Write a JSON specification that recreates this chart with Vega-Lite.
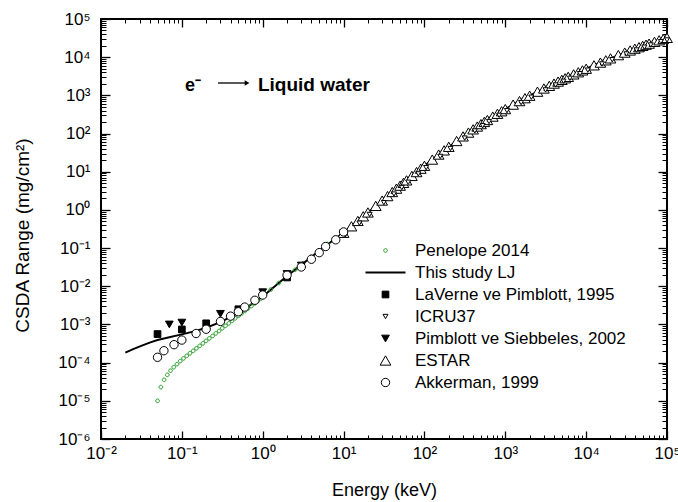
{
  "$schema": "https://vega.github.io/schema/vega-lite/v6.json",
  "width": 566,
  "height": 420,
  "autosize": {"type": "none"},
  "padding": {"left": 101, "top": 19, "right": 11, "bottom": 63},
  "background": "white",
  "config": {
    "view": {"stroke": "black", "strokeWidth": 2},
    "font": "Liberation Sans",
    "axis": {"grid": false, "domain": false, "tickColor": "black", "labelColor": "black", "titleColor": "black", "labelFont": "Liberation Sans", "titleFont": "Liberation Sans", "labelFontSize": 17, "titleFontSize": 18, "titleFontWeight": "normal"},
    "legend": {"labelFont": "Liberation Sans", "labelFontSize": 17, "labelColor": "black", "labelLimit": 400, "symbolOpacity": 1, "padding": 0}
  },
  "datasets": {
    "lj": [
      {"E": 0.02, "R": 1.82e-4},
      {"E": 0.025, "R": 2.25e-4},
      {"E": 0.032, "R": 2.8e-4},
      {"E": 0.04, "R": 3.35e-4},
      {"E": 0.05, "R": 3.9e-4},
      {"E": 0.07, "R": 4.6e-4},
      {"E": 0.1, "R": 5.5e-4},
      {"E": 0.15, "R": 6.8e-4},
      {"E": 0.2, "R": 8.2e-4},
      {"E": 0.3, "R": 1.15e-3},
      {"E": 0.5, "R": 2.0e-3},
      {"E": 0.7, "R": 3.2e-3},
      {"E": 1, "R": 5.4e-3},
      {"E": 2, "R": 0.0185},
      {"E": 5, "R": 0.085},
      {"E": 10, "R": 0.255},
      {"E": 20, "R": 0.857},
      {"E": 50, "R": 4.32},
      {"E": 100, "R": 14.3},
      {"E": 200, "R": 44.9},
      {"E": 500, "R": 177},
      {"E": 1000, "R": 437},
      {"E": 2000, "R": 978},
      {"E": 5000, "R": 2550},
      {"E": 10000, "R": 4975},
      {"E": 20000, "R": 9320},
      {"E": 50000, "R": 19780},
      {"E": 100000, "R": 32100}
    ],
    "points": [
      {"s": "Penelope 2014", "E": 0.0501, "R": 1.0e-5},
      {"s": "Penelope 2014", "E": 0.0550, "R": 2.29e-5},
      {"s": "Penelope 2014", "E": 0.0603, "R": 3.55e-5},
      {"s": "Penelope 2014", "E": 0.0661, "R": 4.79e-5},
      {"s": "Penelope 2014", "E": 0.0724, "R": 6.17e-5},
      {"s": "Penelope 2014", "E": 0.0794, "R": 7.59e-5},
      {"s": "Penelope 2014", "E": 0.0871, "R": 9.12e-5},
      {"s": "Penelope 2014", "E": 0.0955, "R": 1.10e-4},
      {"s": "Penelope 2014", "E": 0.1047, "R": 1.29e-4},
      {"s": "Penelope 2014", "E": 0.1148, "R": 1.51e-4},
      {"s": "Penelope 2014", "E": 0.1259, "R": 1.76e-4},
      {"s": "Penelope 2014", "E": 0.1380, "R": 2.04e-4},
      {"s": "Penelope 2014", "E": 0.1514, "R": 2.37e-4},
      {"s": "Penelope 2014", "E": 0.1660, "R": 2.75e-4},
      {"s": "Penelope 2014", "E": 0.1820, "R": 3.20e-4},
      {"s": "Penelope 2014", "E": 0.1995, "R": 3.72e-4},
      {"s": "Penelope 2014", "E": 0.2188, "R": 4.32e-4},
      {"s": "Penelope 2014", "E": 0.2399, "R": 5.01e-4},
      {"s": "Penelope 2014", "E": 0.2630, "R": 5.82e-4},
      {"s": "Penelope 2014", "E": 0.2884, "R": 6.76e-4},
      {"s": "Penelope 2014", "E": 0.3162, "R": 7.94e-4},
      {"s": "Penelope 2014", "E": 0.3467, "R": 9.23e-4},
      {"s": "Penelope 2014", "E": 0.3802, "R": 1.07e-3},
      {"s": "Penelope 2014", "E": 0.4169, "R": 1.24e-3},
      {"s": "Penelope 2014", "E": 0.4571, "R": 1.45e-3},
      {"s": "Penelope 2014", "E": 0.5012, "R": 1.68e-3},
      {"s": "Penelope 2014", "E": 0.5495, "R": 1.95e-3},
      {"s": "Penelope 2014", "E": 0.6026, "R": 2.26e-3},
      {"s": "Penelope 2014", "E": 0.6607, "R": 2.63e-3},
      {"s": "Penelope 2014", "E": 0.7244, "R": 3.05e-3},
      {"s": "Penelope 2014", "E": 0.7943, "R": 3.55e-3},
      {"s": "Penelope 2014", "E": 0.8710, "R": 4.12e-3},
      {"s": "Penelope 2014", "E": 0.9550, "R": 4.79e-3},
      {"s": "Penelope 2014", "E": 1.047, "R": 5.6e-3},
      {"s": "Penelope 2014", "E": 1.259, "R": 8.2e-3},
      {"s": "Penelope 2014", "E": 1.585, "R": 0.0122},
      {"s": "Penelope 2014", "E": 1.995, "R": 0.0182},
      {"s": "Penelope 2014", "E": 2.512, "R": 0.027},
      {"s": "Penelope 2014", "E": 3.162, "R": 0.040},
      {"s": "Penelope 2014", "E": 3.981, "R": 0.059},
      {"s": "Penelope 2014", "E": 5.012, "R": 0.087},
      {"s": "Penelope 2014", "E": 6.310, "R": 0.128},
      {"s": "Penelope 2014", "E": 7.943, "R": 0.188},
      {"s": "Penelope 2014", "E": 10, "R": 0.255},
      {"s": "Penelope 2014", "E": 12.59, "R": 0.375},
      {"s": "Penelope 2014", "E": 15.85, "R": 0.56},
      {"s": "Penelope 2014", "E": 19.95, "R": 0.857},
      {"s": "Penelope 2014", "E": 25.12, "R": 1.28},
      {"s": "Penelope 2014", "E": 31.62, "R": 1.92},
      {"s": "Penelope 2014", "E": 39.81, "R": 2.90},
      {"s": "Penelope 2014", "E": 50.12, "R": 4.33},
      {"s": "Penelope 2014", "E": 63.10, "R": 6.5},
      {"s": "Penelope 2014", "E": 79.43, "R": 9.66},
      {"s": "Penelope 2014", "E": 100, "R": 14.3},
      {"s": "Penelope 2014", "E": 125.9, "R": 21.0},
      {"s": "Penelope 2014", "E": 158.5, "R": 30.8},
      {"s": "Penelope 2014", "E": 199.5, "R": 44.9},
      {"s": "Penelope 2014", "E": 251.2, "R": 64},
      {"s": "Penelope 2014", "E": 316.2, "R": 91},
      {"s": "Penelope 2014", "E": 398.1, "R": 128},
      {"s": "Penelope 2014", "E": 501.2, "R": 177},
      {"s": "Penelope 2014", "E": 631.0, "R": 243},
      {"s": "Penelope 2014", "E": 794.3, "R": 326},
      {"s": "Penelope 2014", "E": 1000, "R": 437},
      {"s": "Penelope 2014", "E": 1259, "R": 577},
      {"s": "Penelope 2014", "E": 1585, "R": 753},
      {"s": "Penelope 2014", "E": 1995, "R": 976},
      {"s": "Penelope 2014", "E": 2512, "R": 1255},
      {"s": "Penelope 2014", "E": 3162, "R": 1600},
      {"s": "Penelope 2014", "E": 3981, "R": 2030},
      {"s": "Penelope 2014", "E": 5012, "R": 2555},
      {"s": "Penelope 2014", "E": 6310, "R": 3200},
      {"s": "Penelope 2014", "E": 7943, "R": 3990},
      {"s": "Penelope 2014", "E": 10000, "R": 4975},
      {"s": "Penelope 2014", "E": 12589, "R": 6160},
      {"s": "Penelope 2014", "E": 15849, "R": 7590},
      {"s": "Penelope 2014", "E": 19953, "R": 9300},
      {"s": "Penelope 2014", "E": 25119, "R": 11330},
      {"s": "Penelope 2014", "E": 31623, "R": 13700},
      {"s": "Penelope 2014", "E": 39811, "R": 16600},
      {"s": "Penelope 2014", "E": 50119, "R": 19800},
      {"s": "Penelope 2014", "E": 63096, "R": 23500},
      {"s": "Penelope 2014", "E": 79433, "R": 27700},
      {"s": "Penelope 2014", "E": 100000, "R": 32100},
      {"s": "LaVerne ve Pimblott, 1995", "E": 0.05, "R": 5.6e-4},
      {"s": "LaVerne ve Pimblott, 1995", "E": 0.1, "R": 7.4e-4},
      {"s": "LaVerne ve Pimblott, 1995", "E": 0.2, "R": 1.07e-3},
      {"s": "LaVerne ve Pimblott, 1995", "E": 0.5, "R": 2.5e-3},
      {"s": "LaVerne ve Pimblott, 1995", "E": 2, "R": 0.017},
      {"s": "Pimblott ve Siebbeles, 2002", "E": 0.07, "R": 1.0e-3},
      {"s": "Pimblott ve Siebbeles, 2002", "E": 0.1, "R": 1.12e-3},
      {"s": "Pimblott ve Siebbeles, 2002", "E": 0.3, "R": 1.9e-3},
      {"s": "Pimblott ve Siebbeles, 2002", "E": 1, "R": 7.0e-3},
      {"s": "Pimblott ve Siebbeles, 2002", "E": 2, "R": 0.021},
      {"s": "Pimblott ve Siebbeles, 2002", "E": 3, "R": 0.035},
      {"s": "Pimblott ve Siebbeles, 2002", "E": 10, "R": 0.245},
      {"s": "ESTAR", "E": 10, "R": 0.2515},
      {"s": "ESTAR", "E": 12.5, "R": 0.3718},
      {"s": "ESTAR", "E": 15, "R": 0.5147},
      {"s": "ESTAR", "E": 17.5, "R": 0.679},
      {"s": "ESTAR", "E": 20, "R": 0.8575},
      {"s": "ESTAR", "E": 25, "R": 1.274},
      {"s": "ESTAR", "E": 30, "R": 1.756},
      {"s": "ESTAR", "E": 35, "R": 2.30},
      {"s": "ESTAR", "E": 40, "R": 2.94},
      {"s": "ESTAR", "E": 45, "R": 3.60},
      {"s": "ESTAR", "E": 50, "R": 4.32},
      {"s": "ESTAR", "E": 55, "R": 5.10},
      {"s": "ESTAR", "E": 60, "R": 5.94},
      {"s": "ESTAR", "E": 70, "R": 7.76},
      {"s": "ESTAR", "E": 80, "R": 9.79},
      {"s": "ESTAR", "E": 90, "R": 12.0},
      {"s": "ESTAR", "E": 100, "R": 14.31},
      {"s": "ESTAR", "E": 125, "R": 20.8},
      {"s": "ESTAR", "E": 150, "R": 28.17},
      {"s": "ESTAR", "E": 175, "R": 36.2},
      {"s": "ESTAR", "E": 200, "R": 44.92},
      {"s": "ESTAR", "E": 250, "R": 63.8},
      {"s": "ESTAR", "E": 300, "R": 84.2},
      {"s": "ESTAR", "E": 350, "R": 105.9},
      {"s": "ESTAR", "E": 400, "R": 128.8},
      {"s": "ESTAR", "E": 450, "R": 152.4},
      {"s": "ESTAR", "E": 500, "R": 176.6},
      {"s": "ESTAR", "E": 550, "R": 201.3},
      {"s": "ESTAR", "E": 600, "R": 226.5},
      {"s": "ESTAR", "E": 700, "R": 277.9},
      {"s": "ESTAR", "E": 800, "R": 329.0},
      {"s": "ESTAR", "E": 900, "R": 383.0},
      {"s": "ESTAR", "E": 1000, "R": 436.7},
      {"s": "ESTAR", "E": 1250, "R": 572},
      {"s": "ESTAR", "E": 1500, "R": 707.5},
      {"s": "ESTAR", "E": 1750, "R": 843},
      {"s": "ESTAR", "E": 2000, "R": 978.5},
      {"s": "ESTAR", "E": 2500, "R": 1248},
      {"s": "ESTAR", "E": 3000, "R": 1514},
      {"s": "ESTAR", "E": 3500, "R": 1777},
      {"s": "ESTAR", "E": 4000, "R": 2037},
      {"s": "ESTAR", "E": 4500, "R": 2295},
      {"s": "ESTAR", "E": 5000, "R": 2550},
      {"s": "ESTAR", "E": 5500, "R": 2802},
      {"s": "ESTAR", "E": 6000, "R": 3052},
      {"s": "ESTAR", "E": 7000, "R": 3545},
      {"s": "ESTAR", "E": 8000, "R": 4030},
      {"s": "ESTAR", "E": 9000, "R": 4506},
      {"s": "ESTAR", "E": 10000, "R": 4975},
      {"s": "ESTAR", "E": 12500, "R": 6117},
      {"s": "ESTAR", "E": 15000, "R": 7219},
      {"s": "ESTAR", "E": 17500, "R": 8284},
      {"s": "ESTAR", "E": 20000, "R": 9320},
      {"s": "ESTAR", "E": 25000, "R": 11310},
      {"s": "ESTAR", "E": 30000, "R": 13190},
      {"s": "ESTAR", "E": 35000, "R": 14990},
      {"s": "ESTAR", "E": 40000, "R": 16700},
      {"s": "ESTAR", "E": 45000, "R": 18270},
      {"s": "ESTAR", "E": 50000, "R": 19780},
      {"s": "ESTAR", "E": 55000, "R": 21230},
      {"s": "ESTAR", "E": 60000, "R": 22620},
      {"s": "ESTAR", "E": 70000, "R": 25240},
      {"s": "ESTAR", "E": 80000, "R": 27680},
      {"s": "ESTAR", "E": 90000, "R": 29960},
      {"s": "ESTAR", "E": 100000, "R": 32100},
      {"s": "ICRU37", "E": 10.5, "R": 0.22},
      {"s": "ICRU37", "E": 15.7, "R": 0.45},
      {"s": "ICRU37", "E": 21, "R": 0.76},
      {"s": "ICRU37", "E": 31.5, "R": 1.55},
      {"s": "ICRU37", "E": 42, "R": 2.6},
      {"s": "ICRU37", "E": 52.5, "R": 3.85},
      {"s": "ICRU37", "E": 63, "R": 5.3},
      {"s": "ICRU37", "E": 84, "R": 8.8},
      {"s": "ICRU37", "E": 105, "R": 12.8},
      {"s": "ICRU37", "E": 157, "R": 25.2},
      {"s": "ICRU37", "E": 210, "R": 40.5},
      {"s": "ICRU37", "E": 315, "R": 76},
      {"s": "ICRU37", "E": 420, "R": 117},
      {"s": "ICRU37", "E": 525, "R": 160},
      {"s": "ICRU37", "E": 630, "R": 206},
      {"s": "ICRU37", "E": 840, "R": 300},
      {"s": "ICRU37", "E": 1050, "R": 398},
      {"s": "ICRU37", "E": 1570, "R": 646},
      {"s": "ICRU37", "E": 2100, "R": 895},
      {"s": "ICRU37", "E": 3150, "R": 1390},
      {"s": "ICRU37", "E": 4200, "R": 1870},
      {"s": "ICRU37", "E": 5250, "R": 2340},
      {"s": "ICRU37", "E": 6300, "R": 2800},
      {"s": "ICRU37", "E": 8400, "R": 3700},
      {"s": "ICRU37", "E": 10500, "R": 4580},
      {"s": "ICRU37", "E": 15700, "R": 6650},
      {"s": "ICRU37", "E": 21000, "R": 8600},
      {"s": "ICRU37", "E": 31500, "R": 12150},
      {"s": "ICRU37", "E": 42000, "R": 15400},
      {"s": "ICRU37", "E": 52500, "R": 18250},
      {"s": "ICRU37", "E": 63000, "R": 20900},
      {"s": "ICRU37", "E": 84000, "R": 25600},
      {"s": "ICRU37", "E": 100000, "R": 28300},
      {"s": "Akkerman, 1999", "E": 0.05, "R": 1.38e-4},
      {"s": "Akkerman, 1999", "E": 0.06, "R": 2.05e-4},
      {"s": "Akkerman, 1999", "E": 0.08, "R": 2.95e-4},
      {"s": "Akkerman, 1999", "E": 0.1, "R": 3.9e-4},
      {"s": "Akkerman, 1999", "E": 0.15, "R": 5.8e-4},
      {"s": "Akkerman, 1999", "E": 0.2, "R": 7.5e-4},
      {"s": "Akkerman, 1999", "E": 0.3, "R": 1.2e-3},
      {"s": "Akkerman, 1999", "E": 0.4, "R": 1.65e-3},
      {"s": "Akkerman, 1999", "E": 0.5, "R": 2.15e-3},
      {"s": "Akkerman, 1999", "E": 0.6, "R": 2.85e-3},
      {"s": "Akkerman, 1999", "E": 0.8, "R": 4.3e-3},
      {"s": "Akkerman, 1999", "E": 1, "R": 5.9e-3},
      {"s": "Akkerman, 1999", "E": 2, "R": 0.0195},
      {"s": "Akkerman, 1999", "E": 3, "R": 0.032},
      {"s": "Akkerman, 1999", "E": 4, "R": 0.051},
      {"s": "Akkerman, 1999", "E": 5, "R": 0.076},
      {"s": "Akkerman, 1999", "E": 6, "R": 0.11},
      {"s": "Akkerman, 1999", "E": 8, "R": 0.165},
      {"s": "Akkerman, 1999", "E": 10, "R": 0.265}
    ]
  },
  "resolve": {"axis": {"x": "independent", "y": "independent"}},
  "layer": [
    {
      "data": {"name": "lj"},
      "mark": {"type": "line", "color": "black", "strokeWidth": 2},
      "encoding": {
        "x": {"field": "E", "type": "quantitative",
          "scale": {"type": "log", "domain": [0.01, 100000], "nice": false},
          "axis": {"orient": "bottom", "values": [0.01, 0.1, 1, 10, 100, 1000, 10000, 100000],
            "labelExpr": "'10' + (datum.value < 0.99 ? '⁻' : '') + ['⁰','¹','²','³','⁴','⁵','⁶'][abs(round(log(datum.value)/LN10))]",
            "tickSize": -8, "tickWidth": 1.3, "labelPadding": 14, "labelFlush": false, "labelOverlap": false,
            "title": "Energy (keV)", "titleX": 283, "titleY": 56, "titleBaseline": "alphabetic", "titleAnchor": "middle"}},
        "y": {"field": "R", "type": "quantitative",
          "scale": {"type": "log", "domain": [1e-6, 100000], "nice": false},
          "axis": {"orient": "left", "values": [1e-6, 1e-5, 1e-4, 1e-3, 0.01, 0.1, 1, 10, 100, 1000, 10000, 100000],
            "labelExpr": "'10' + (datum.value < 0.99 ? '⁻' : '') + ['⁰','¹','²','³','⁴','⁵','⁶'][abs(round(log(datum.value)/LN10))]",
            "tickSize": -9, "tickWidth": 1.3, "labelPadding": 20, "labelFlush": false, "labelOverlap": false,
            "title": "CSDA Range (mg/cm²)", "titleX": -73, "titleY": 216, "titleBaseline": "alphabetic", "titleAngle": -90, "titleAnchor": "middle", "titleFontSize": 19}}
      }
    },
    {
      "data": {"name": "points"},
      "mark": {"type": "point", "opacity": 1},
      "encoding": {
        "x": {"field": "E", "type": "quantitative",
          "axis": {"orient": "top", "values": [0.01, 0.1, 1, 10, 100, 1000, 10000, 100000], "labels": false, "tickSize": -8, "tickWidth": 1.3, "title": null}},
        "y": {"field": "R", "type": "quantitative",
          "axis": {"orient": "right", "values": [1e-6, 1e-5, 1e-4, 1e-3, 0.01, 0.1, 1, 10, 100, 1000, 10000, 100000], "labels": false, "tickSize": -9, "tickWidth": 1.3, "title": null}},
        "shape": {"field": "s", "type": "nominal",
          "scale": {"domain": ["Penelope 2014", "This study LJ", "LaVerne ve Pimblott, 1995", "ICRU37", "Pimblott ve Siebbeles, 2002", "ESTAR", "Akkerman, 1999"],
            "range": ["M-0.42,0a0.42,0.42 0 1,0 0.84,0a0.42,0.42 0 1,0 -0.84,0Z", "M-4,0L4,0", "square", "triangle-down", "triangle-down", "triangle-up", "circle"]},
          "legend": {"title": null, "orient": "none", "legendX": 276, "legendY": 223, "rowPadding": 4, "labelOffset": 21}},
        "fill": {"field": "s", "type": "nominal",
          "scale": {"domain": ["Penelope 2014", "This study LJ", "LaVerne ve Pimblott, 1995", "ICRU37", "Pimblott ve Siebbeles, 2002", "ESTAR", "Akkerman, 1999"],
            "range": ["transparent", "transparent", "black", "white", "black", "white", "white"]},
          "legend": {"title": null, "orient": "none", "legendX": 276, "legendY": 223, "rowPadding": 4, "labelOffset": 21}},
        "stroke": {"field": "s", "type": "nominal",
          "scale": {"domain": ["Penelope 2014", "This study LJ", "LaVerne ve Pimblott, 1995", "ICRU37", "Pimblott ve Siebbeles, 2002", "ESTAR", "Akkerman, 1999"],
            "range": ["#1f9a1f", "black", "black", "black", "black", "black", "black"]},
          "legend": {"title": null, "orient": "none", "legendX": 276, "legendY": 223, "rowPadding": 4, "labelOffset": 21}},
        "size": {"field": "s", "type": "nominal",
          "scale": {"type": "ordinal", "domain": ["Penelope 2014", "This study LJ", "LaVerne ve Pimblott, 1995", "ICRU37", "Pimblott ve Siebbeles, 2002", "ESTAR", "Akkerman, 1999"],
            "range": [76, 100, 45, 25, 60, 115, 70]},
          "legend": {"title": null, "orient": "none", "legendX": 276, "legendY": 223, "rowPadding": 4, "labelOffset": 21}},
        "strokeWidth": {"field": "s", "type": "nominal",
          "scale": {"type": "ordinal", "domain": ["Penelope 2014", "This study LJ", "LaVerne ve Pimblott, 1995", "ICRU37", "Pimblott ve Siebbeles, 2002", "ESTAR", "Akkerman, 1999"],
            "range": [1, 2, 1, 1, 1, 1, 1]},
          "legend": {"title": null, "orient": "none", "legendX": 276, "legendY": 223, "rowPadding": 4, "labelOffset": 21}}
      }
    },
    {
      "data": {"values": [{}]},
      "mark": {"type": "text", "text": "Liquid water", "font": "Liberation Sans", "fontWeight": "bold", "fontSize": 19, "align": "left", "baseline": "alphabetic", "color": "black"},
      "encoding": {
        "x": {"datum": 0.874, "type": "quantitative",
          "axis": {"orient": "bottom", "labels": false, "tickSize": -4, "title": null,
            "values": [0.02,0.03,0.04,0.05,0.06,0.07,0.08,0.09,0.2,0.3,0.4,0.5,0.6,0.7,0.8,0.9,2,3,4,5,6,7,8,9,20,30,40,50,60,70,80,90,200,300,400,500,600,700,800,900,2000,3000,4000,5000,6000,7000,8000,9000,20000,30000,40000,50000,60000,70000,80000,90000]}},
        "y": {"datum": 1300, "type": "quantitative",
          "axis": {"orient": "left", "labels": false, "tickSize": -5, "title": null,
            "values": [2e-6,3e-6,4e-6,5e-6,6e-6,7e-6,8e-6,9e-6,2e-5,3e-5,4e-5,5e-5,6e-5,7e-5,8e-5,9e-5,2e-4,3e-4,4e-4,5e-4,6e-4,7e-4,8e-4,9e-4,2e-3,3e-3,4e-3,5e-3,6e-3,7e-3,8e-3,9e-3,0.02,0.03,0.04,0.05,0.06,0.07,0.08,0.09,0.2,0.3,0.4,0.5,0.6,0.7,0.8,0.9,2,3,4,5,6,7,8,9,20,30,40,50,60,70,80,90,200,300,400,500,600,700,800,900,2000,3000,4000,5000,6000,7000,8000,9000,20000,30000,40000,50000,60000,70000,80000,90000]}}
      }
    },
    {
      "data": {"values": [{}]},
      "mark": {"type": "text", "text": "e⁻", "font": "Liberation Sans", "fontWeight": "bold", "fontSize": 18, "align": "left", "baseline": "alphabetic", "color": "black"},
      "encoding": {
        "x": {"datum": 0.1094, "type": "quantitative",
          "axis": {"orient": "top", "labels": false, "tickSize": -4, "title": null,
            "values": [0.02,0.03,0.04,0.05,0.06,0.07,0.08,0.09,0.2,0.3,0.4,0.5,0.6,0.7,0.8,0.9,2,3,4,5,6,7,8,9,20,30,40,50,60,70,80,90,200,300,400,500,600,700,800,900,2000,3000,4000,5000,6000,7000,8000,9000,20000,30000,40000,50000,60000,70000,80000,90000]}},
        "y": {"datum": 1300, "type": "quantitative",
          "axis": {"orient": "right", "labels": false, "tickSize": -5, "title": null,
            "values": [2e-6,3e-6,4e-6,5e-6,6e-6,7e-6,8e-6,9e-6,2e-5,3e-5,4e-5,5e-5,6e-5,7e-5,8e-5,9e-5,2e-4,3e-4,4e-4,5e-4,6e-4,7e-4,8e-4,9e-4,2e-3,3e-3,4e-3,5e-3,6e-3,7e-3,8e-3,9e-3,0.02,0.03,0.04,0.05,0.06,0.07,0.08,0.09,0.2,0.3,0.4,0.5,0.6,0.7,0.8,0.9,2,3,4,5,6,7,8,9,20,30,40,50,60,70,80,90,200,300,400,500,600,700,800,900,2000,3000,4000,5000,6000,7000,8000,9000,20000,30000,40000,50000,60000,70000,80000,90000]}}
      }
    },
    {
      "data": {"values": [{}]},
      "mark": {"type": "rule", "color": "black", "strokeWidth": 1.3},
      "encoding": {
        "x": {"datum": 0.28, "type": "quantitative", "axis": null},
        "x2": {"datum": 0.62},
        "y": {"datum": 2108, "type": "quantitative", "axis": null}
      }
    },
    {
      "data": {"values": [{}]},
      "mark": {"type": "point", "shape": "triangle-right", "filled": true, "color": "black", "size": 30, "opacity": 1},
      "encoding": {
        "x": {"datum": 0.64, "type": "quantitative", "axis": null},
        "y": {"datum": 2108, "type": "quantitative", "axis": null}
      }
    }
  ]
}
